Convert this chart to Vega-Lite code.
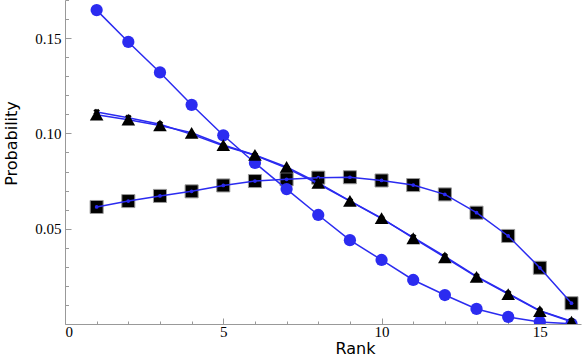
{
  "$schema": "https://vega.github.io/schema/vega-lite/v6.json",
  "width": 516,
  "height": 324,
  "autosize": {"type": "none"},
  "padding": {"left": 65, "top": 0, "right": 1, "bottom": 40},
  "background": "white",
  "config": {"view": {"stroke": null}},
  "data": {"values": [
    {"rank":1,"s":"circle","p":0.1647},{"rank":2,"s":"circle","p":0.148},{"rank":3,"s":"circle","p":0.132},{"rank":4,"s":"circle","p":0.115},{"rank":5,"s":"circle","p":0.099},{"rank":6,"s":"circle","p":0.0845},{"rank":7,"s":"circle","p":0.0708},{"rank":8,"s":"circle","p":0.0572},{"rank":9,"s":"circle","p":0.044},{"rank":10,"s":"circle","p":0.0336},{"rank":11,"s":"circle","p":0.0231},{"rank":12,"s":"circle","p":0.0152},{"rank":13,"s":"circle","p":0.0079},{"rank":14,"s":"circle","p":0.0037},{"rank":15,"s":"circle","p":0.0011},{"rank":16,"s":"circle","p":0.0001},
    {"rank":1,"s":"cross","p":0.1112},{"rank":2,"s":"cross","p":0.1082},{"rank":3,"s":"cross","p":0.1048},{"rank":4,"s":"cross","p":0.0995},{"rank":5,"s":"cross","p":0.0935},{"rank":6,"s":"cross","p":0.0885},{"rank":7,"s":"cross","p":0.0818},{"rank":8,"s":"cross","p":0.0736},{"rank":9,"s":"cross","p":0.0645},{"rank":10,"s":"cross","p":0.0553},{"rank":11,"s":"cross","p":0.0455},{"rank":12,"s":"cross","p":0.0355},{"rank":13,"s":"cross","p":0.025},{"rank":14,"s":"cross","p":0.016},{"rank":15,"s":"cross","p":0.007},{"rank":16,"s":"cross","p":0.0015},
    {"rank":1,"s":"triangle","p":0.1098},{"rank":2,"s":"triangle","p":0.1072},{"rank":3,"s":"triangle","p":0.1042},{"rank":4,"s":"triangle","p":0.1003},{"rank":5,"s":"triangle","p":0.0939},{"rank":6,"s":"triangle","p":0.0887},{"rank":7,"s":"triangle","p":0.0824},{"rank":8,"s":"triangle","p":0.074},{"rank":9,"s":"triangle","p":0.0646},{"rank":10,"s":"triangle","p":0.0556},{"rank":11,"s":"triangle","p":0.045},{"rank":12,"s":"triangle","p":0.035},{"rank":13,"s":"triangle","p":0.0247},{"rank":14,"s":"triangle","p":0.0157},{"rank":15,"s":"triangle","p":0.0068},{"rank":16,"s":"triangle","p":0.0012},
    {"rank":1,"s":"square","p":0.0614},{"rank":2,"s":"square","p":0.0645},{"rank":3,"s":"square","p":0.0672},{"rank":4,"s":"square","p":0.0696},{"rank":5,"s":"square","p":0.0727},{"rank":6,"s":"square","p":0.075},{"rank":7,"s":"square","p":0.0759},{"rank":8,"s":"square","p":0.0768},{"rank":9,"s":"square","p":0.077},{"rank":10,"s":"square","p":0.0753},{"rank":11,"s":"square","p":0.0729},{"rank":12,"s":"square","p":0.068},{"rank":13,"s":"square","p":0.0584},{"rank":14,"s":"square","p":0.0462},{"rank":15,"s":"square","p":0.0295},{"rank":16,"s":"square","p":0.0109}
  ]},
  "resolve": {"axis": {"x": "independent", "y": "independent"}},
  "layer": [
    {
      "transform": [{"filter": "datum.s === 'square'"}],
      "mark": {"type": "point", "shape": "square", "filled": true, "fill": "black", "stroke": "#999999", "strokeWidth": 1, "size": 170, "opacity": 1, "clip": true},
      "encoding": {
        "x": {"field": "rank", "type": "quantitative", "scale": {"domain": [0, 16.3], "nice": false, "zero": false},
          "axis": {"orient": "bottom", "values": [1,2,3,4,6,7,8,9,11,12,13,14,16], "labels": false, "domain": false, "grid": false, "tickSize": -3, "tickColor": "#999999", "title": null}},
        "y": {"field": "p", "type": "quantitative", "scale": {"domain": [0, 0.17], "nice": false, "zero": false},
          "axis": {"orient": "left", "values": [0.01,0.02,0.03,0.04,0.06,0.07,0.08,0.09,0.11,0.12,0.13,0.14,0.16,0.17], "labels": false, "domain": false, "grid": false, "tickSize": -3.5, "tickColor": "#999999", "title": null}}
      }
    },
    {
      "mark": {"type": "line", "color": "#2b2bf0", "strokeWidth": 1.5, "clip": true},
      "encoding": {
        "x": {"field": "rank", "type": "quantitative", "scale": {"domain": [0, 16.3], "nice": false, "zero": false},
          "axis": {"orient": "bottom", "values": [0,5,10,15], "grid": false, "tickSize": -6, "tickColor": "#999999", "domainColor": "#999999", "labelFont": "Liberation Serif", "labelFontSize": 15, "labelColor": "black", "labelPadding": 6, "title": "Rank", "titleFont": "DejaVu Sans", "titleFontSize": 16, "titleFontWeight": "normal", "titleColor": "black", "titlePadding": 1, "titleX": 290}},
        "y": {"field": "p", "type": "quantitative", "scale": {"domain": [0, 0.17], "nice": false, "zero": false},
          "axis": {"orient": "left", "values": [0.05,0.1,0.15], "format": ".2f", "grid": false, "tickSize": -6, "tickColor": "#999999", "domainColor": "#999999", "labelFont": "Liberation Serif", "labelFontSize": 15, "labelColor": "black", "labelPadding": 10, "title": "Probability", "titleFont": "DejaVu Sans", "titleFontSize": 16, "titleFontWeight": "normal", "titleColor": "black", "titlePadding": 15, "titleY": 143}},
        "detail": {"field": "s"}
      }
    },
    {
      "transform": [{"filter": "datum.s === 'square'"}],
      "mark": {"type": "point", "shape": "circle", "filled": true, "fill": "#2b2bf0", "size": 14, "opacity": 1, "clip": true},
      "encoding": {
        "x": {"field": "rank", "type": "quantitative", "axis": null},
        "y": {"field": "p", "type": "quantitative", "axis": null}
      }
    },
    {
      "transform": [{"filter": "datum.s === 'circle'"}],
      "mark": {"type": "point", "shape": "circle", "filled": true, "fill": "#2b2bf0", "size": 150, "opacity": 1, "clip": true},
      "encoding": {
        "x": {"field": "rank", "type": "quantitative", "axis": null},
        "y": {"field": "p", "type": "quantitative", "axis": null}
      }
    },
    {
      "transform": [{"filter": "datum.s === 'cross'"}],
      "mark": {"type": "point", "shape": "cross", "angle": 45, "filled": true, "fill": "black", "size": 45, "opacity": 1, "clip": true},
      "encoding": {
        "x": {"field": "rank", "type": "quantitative", "axis": null},
        "y": {"field": "p", "type": "quantitative", "axis": null}
      }
    },
    {
      "transform": [{"filter": "datum.s === 'triangle'"}],
      "mark": {"type": "point", "shape": "triangle-up", "filled": true, "fill": "black", "size": 185, "opacity": 1, "clip": true},
      "encoding": {
        "x": {"field": "rank", "type": "quantitative", "axis": null},
        "y": {"field": "p", "type": "quantitative", "axis": null}
      }
    }
  ]
}
